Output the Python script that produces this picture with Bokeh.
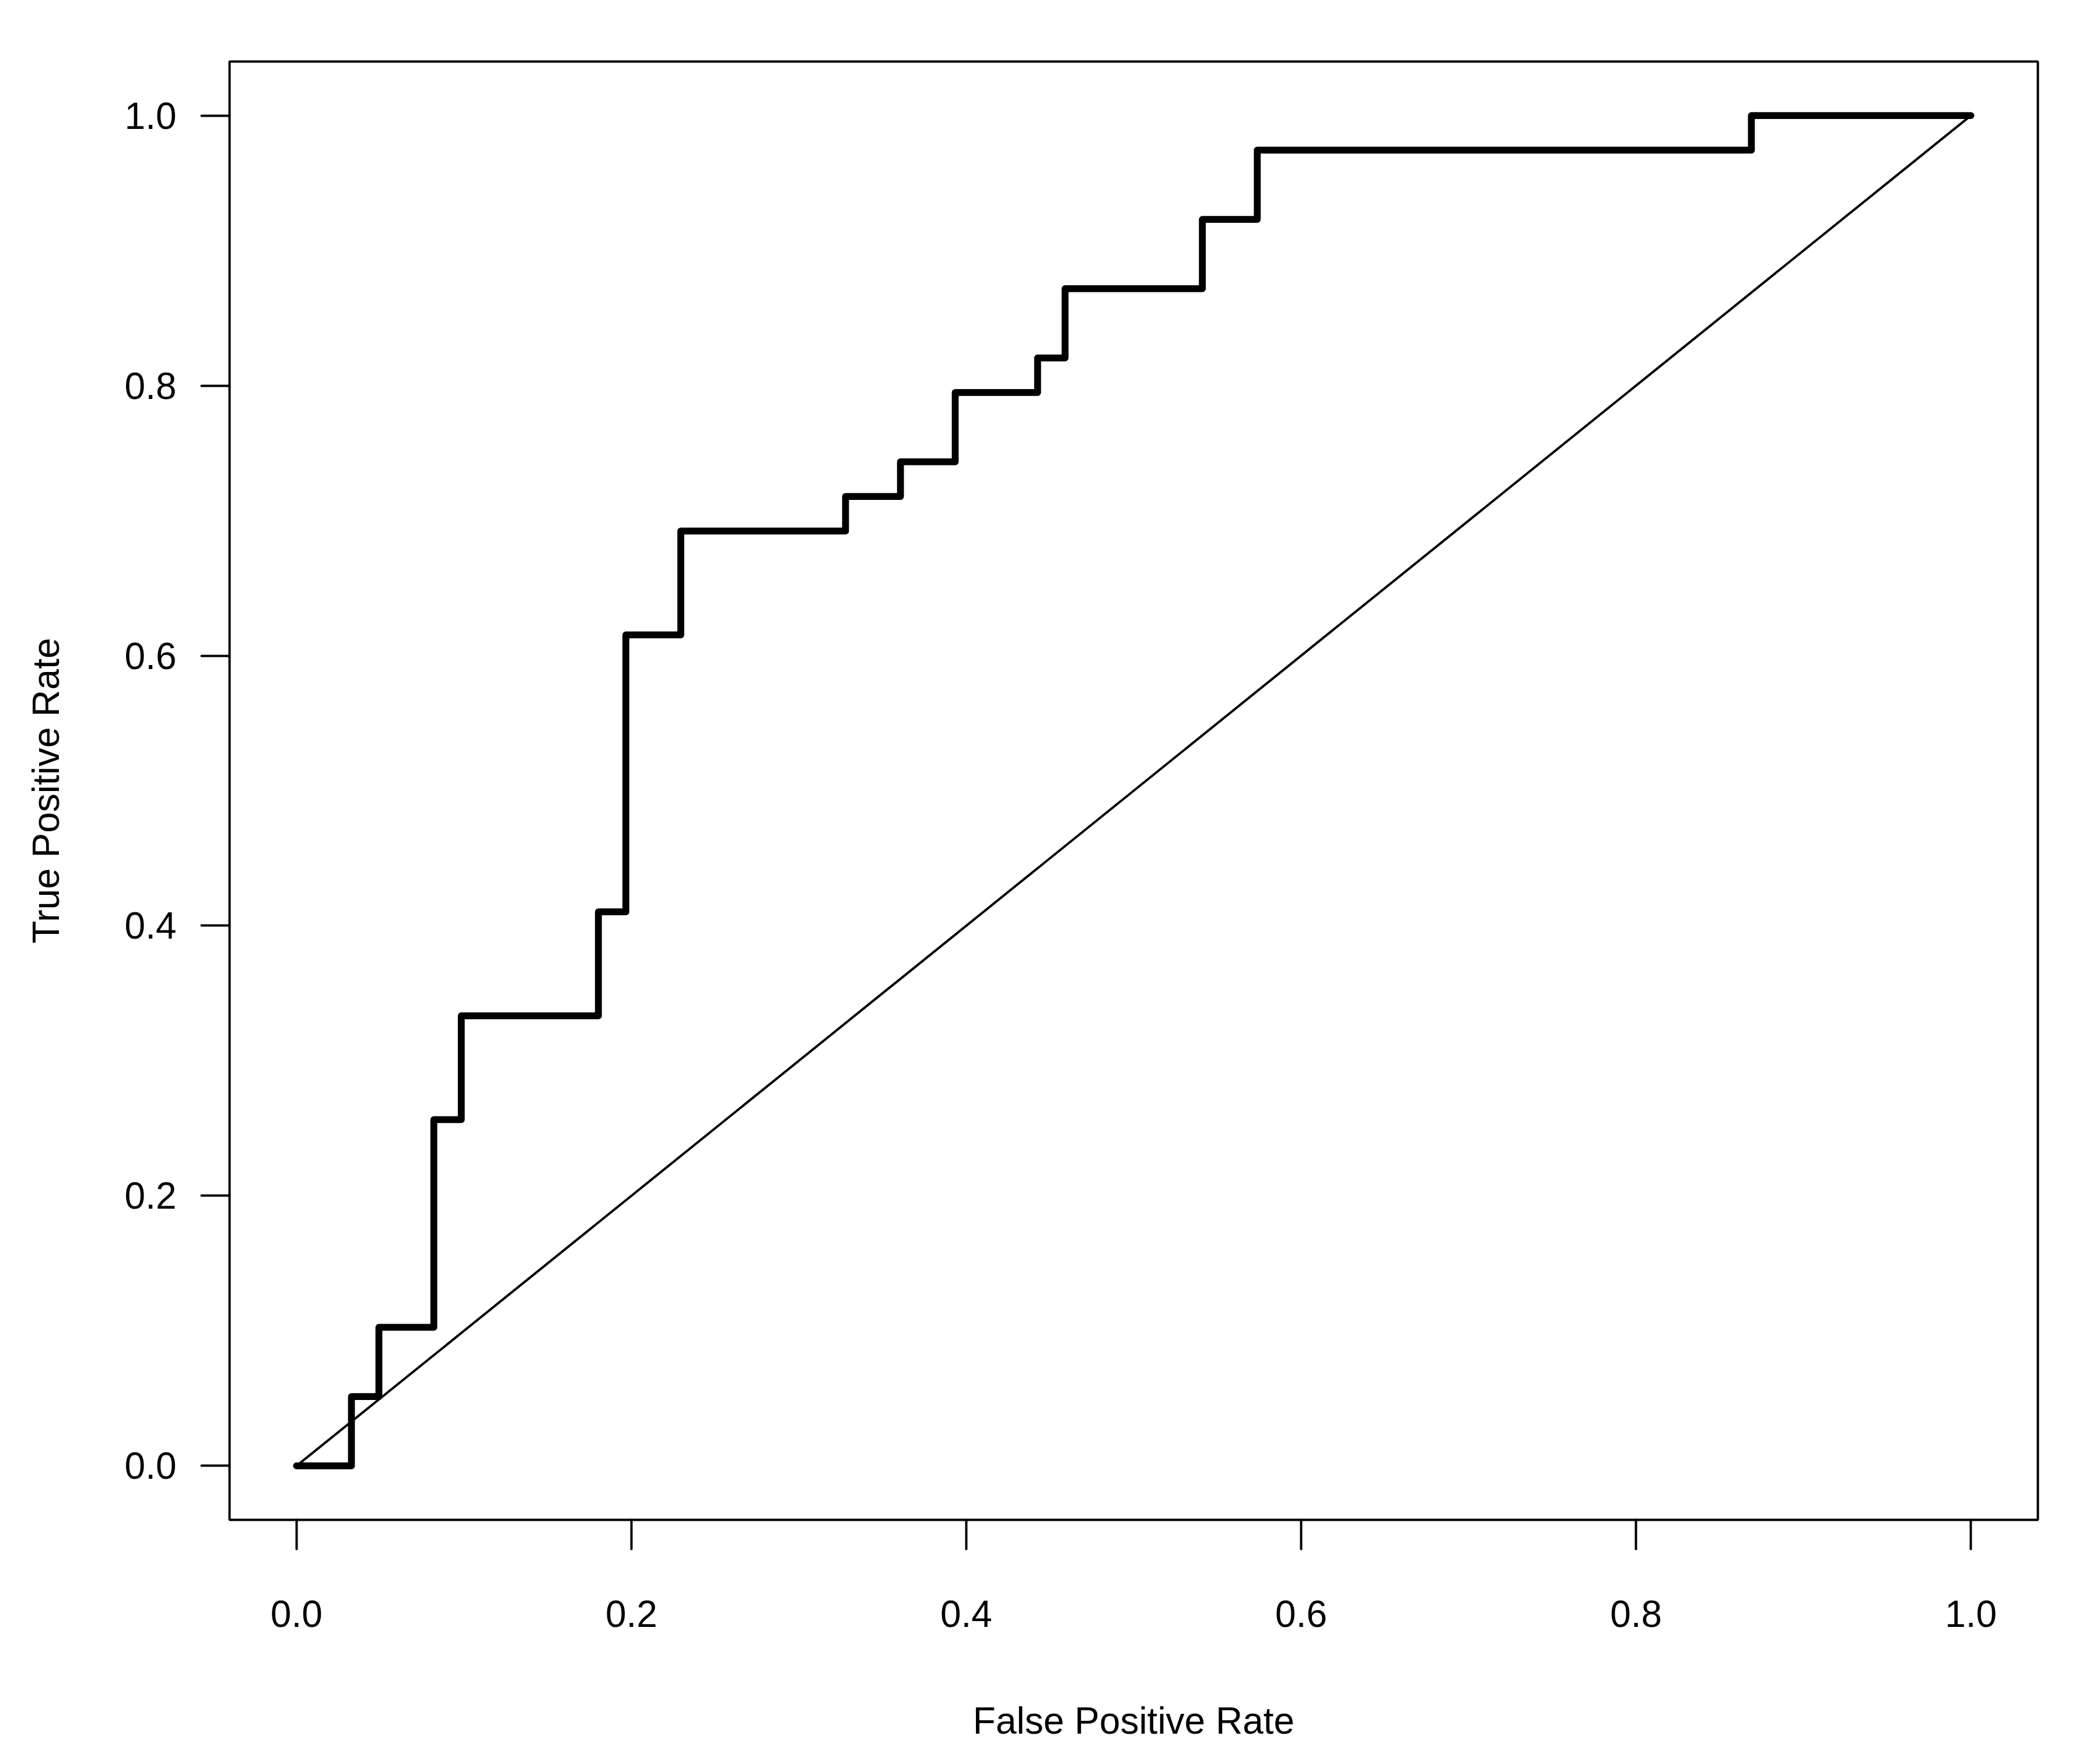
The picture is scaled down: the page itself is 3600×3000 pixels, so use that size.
from bokeh.embed import file_html
from bokeh.models import FixedTicker, Range1d
from bokeh.plotting import figure
from bokeh.resources import INLINE

# ROC curve corner points (false positive rate, true positive rate)
fpr = [0.0, 0.0328, 0.0492, 0.0820, 0.0984, 0.1803, 0.1967, 0.2295, 0.3279,
       0.3607, 0.3934, 0.4426, 0.4590, 0.5410, 0.5738, 0.8689, 1.0]
tpr = [0.0, 0.0513, 0.1026, 0.2564, 0.3333, 0.4103, 0.6154, 0.6923, 0.7179,
       0.7436, 0.7949, 0.8205, 0.8718, 0.9231, 0.9744, 1.0, 1.0]

# chance line
diag_x = [0.0, 1.0]
diag_y = [0.0, 1.0]

ticks = [0.0, 0.2, 0.4, 0.6, 0.8, 1.0]
tick_labels = ["0.0", "0.2", "0.4", "0.6", "0.8", "1.0"]

FONT = "Liberation Sans"
SIZE = "64px"

p = figure(width=3592, height=2992, output_backend="svg", toolbar_location=None,
           x_range=Range1d(-0.04, 1.04), y_range=Range1d(-0.04, 1.04),
           x_axis_label="False Positive Rate", y_axis_label="True Positive Rate",
           min_border_left=393, min_border_right=99,
           min_border_top=105, min_border_bottom=387)

p.grid.visible = False
p.background_fill_color = "white"
p.border_fill_color = "white"
p.outline_line_color = "black"
p.outline_line_width = 4

for ax in (p.xaxis[0], p.yaxis[0]):
    ax.ticker = FixedTicker(ticks=ticks)
    ax.major_label_overrides = dict(zip(ticks, tick_labels))
    ax.axis_line_color = None
    ax.major_tick_in = 0
    ax.major_tick_line_width = 4
    ax.major_tick_line_color = "black"
    ax.major_tick_line_cap = "round"
    ax.minor_tick_line_color = None
    ax.major_label_text_font = FONT
    ax.major_label_text_font_size = SIZE
    ax.major_label_text_color = "black"
    ax.axis_label_text_font = FONT
    ax.axis_label_text_font_size = SIZE
    ax.axis_label_text_font_style = "normal"
    ax.axis_label_text_color = "black"

p.xaxis.major_tick_out = 50
p.xaxis.major_label_standoff = 88
p.xaxis.axis_label_standoff = 122
p.yaxis.major_tick_out = 48
p.yaxis.major_label_standoff = 43
p.yaxis.axis_label_standoff = 96

p.line(diag_x, diag_y, line_color="black", line_width=4)
p.step(fpr, tpr, mode="after", line_color="black", line_width=11.8,
       line_join="round", line_cap="round")

open("out.html", "w").write(file_html(p, INLINE))
